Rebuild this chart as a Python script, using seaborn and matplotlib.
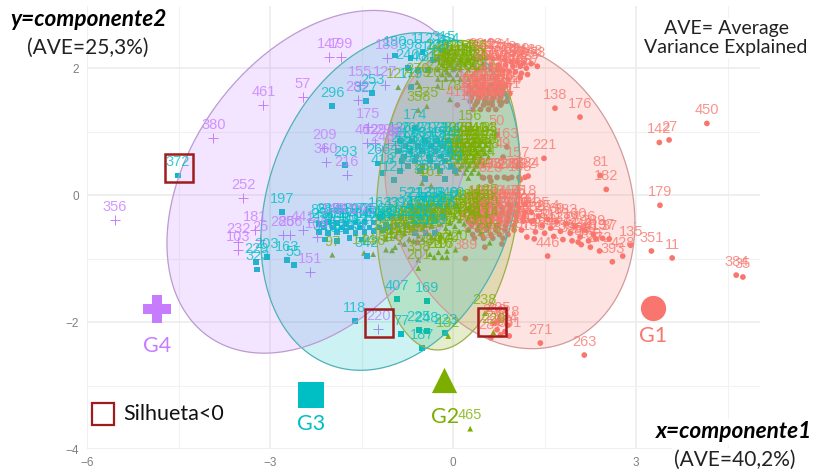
import numpy as np
import pandas as pd
import matplotlib
matplotlib.use("Agg")
import matplotlib.pyplot as plt
from matplotlib.patches import Rectangle
import seaborn as sns

groups = ["G1", "G2", "G3", "G4"]
palette = {"G1": "#F8766D", "G2": "#7CAE00", "G3": "#00BFC4", "G4": "#C77CFF"}
edges = {"G1": "#D29A9A", "G2": "#9DAE4E", "G3": "#4FB2B5", "G4": "#BC9AD2"}
markers = {"G1": "o", "G2": "^", "G3": "s"}

# ellipses: centre, half extent in x and y, correlation
ell_cx = [0.93, -0.08, -1.03, -2.20]
ell_cy = [0.0, 0.0, -0.10, 0.21]
ell_hx = [2.05, 1.18, 2.12, 2.49]
ell_hy = [2.42, 2.44, 2.66, 2.70]
ell_rho = [-0.18, 0.15, 0.23, 0.36]

g1_x = [1.67, 2.08, 4.16, 3.38, 3.54, 1.49, 1.23, 2.41, 2.51, 3.39, 1.55, 3.25, 3.59, 4.64, 4.75, 1.43, 2.15, 2.61, 2.78, 2.91, 2.56,
        .33, .45, .55, .65, .75, .85, .95, 1.05, 1.15, 1.28, 1.38, .4, .52, .62, .72, .82, .92, 1.02, 1.12, 1.22, .5, .7, .9, 1.1,
        .25, .38, .5, .62, .74, .86, .25, .36, .48, .6, .72, .84, .93, .28, .4, .52, .64, .76, .88, .32, .45, .58, .7,
        .72, .88, .82, 1.07, .48, .6, .72, .84, .96, 1.08, 1.18,
        .45, .6, .75, .9, 1.05, 1.18, .3, .42, .55, .68, .8, .93, 1.05, 1.18, 1.28,
        .25, .38, .5, .63, .76, .9, 1.03, 1.15, 1.28, .25, .4, .55, .7, .85, 1.0, 1.12, .35, .5, .65, .82,
        1.4, 1.55, 1.7, 1.85, 2.0, 2.15, 2.3, 2.45, 1.35, 1.5, 1.65, 1.8, 1.95, 2.1, 2.25, 2.4,
        1.21, 1.33, 2.05, 2.34,
        .68, .72, .78, .85, .9, .62, .92, .75,
        .07, .39, .57, .8, .5, .62, .9, 1.1, .2, .52, .8, -.59]
g1_y = [1.37, 1.23, 1.13, .83, .87, .58, .30, .31, .09, -.16, -.96, -.88, -.99, -1.26, -1.29, -2.33, -2.52, -1.05, -.96, -.79, -.69,
        2.15, 2.17, 2.16, 2.15, 2.17, 2.13, 2.1, 2.1, 2.08, 2.07, 2.03, 1.98, 2.0, 1.99, 1.98, 1.96, 1.95, 1.94, 1.92, 1.9, 1.85, 1.84, 1.83, 1.85,
        1.72, 1.72, 1.72, 1.72, 1.72, 1.72, 1.6, 1.6, 1.6, 1.6, 1.6, 1.6, 1.6, 1.48, 1.48, 1.48, 1.48, 1.48, 1.48, 1.35, 1.35, 1.35, 1.35,
        .96, .76, .60, .46, .28, .28, .28, .28, .28, .28, .28,
        -.14, -.14, -.14, -.14, -.14, -.14, -.27, -.27, -.27, -.27, -.27, -.27, -.27, -.27, -.27,
        -.41, -.41, -.41, -.41, -.41, -.41, -.41, -.41, -.41, -.55, -.55, -.55, -.55, -.55, -.55, -.55, -.68, -.68, -.68, -.68,
        -.33, -.38, -.42, -.45, -.5, -.55, -.62, -.68, -.58, -.6, -.65, -.7, -.72, -.78, -.82, -.88,
        -.66, -.69, -.74, -.69,
        -2.02, -2.12, -2.2, -2.15, -2.05, -2.25, -2.22, -1.98,
        1.42, 1.46, 1.45, 1.46, .27, .22, .26, .24, -1.0, -.82, -.77, -.74]
g1_lab = [138, 176, 450, 142, 27, 221, 324, 81, 182, 179, 446, 351, 11, 384, 35, 271, 263, 393, 428, 135, 37,
          76, 204, 48, 126, 294, 318, 83, 209, 248, 148, 78, 22, 331, 96, 117, 286, 44, 305, 159, 267,
          191, 64, 412, 73,
          112, 24, 251, 333, 89, 241, 18, 207, 366, 134, 92, 284, 224, 411, 68, 152, 276, 399, 21, 170, 245, 301, 59,
          50, 163, 49, 157, 277, 208, 62, 388, 227, 93, 122,
          101, 231, 14, 340, 75, 418, 281, 33, 195, 260, 47, 378, 123, 302, 41,
          129, 350, 85, 216, 437, 71, 295, 16, 172, 309, 98, 243, 55, 362, 184, 30, 322, 146, 261, 12,
          105, 254, 69, 383, 160, 436, 289, 197, 118, 312, 46, 233, 399, 88, 169, 272,
          374, 156, 258, 413,
          260, 299, 250, 234, 318, 287, 361, 205,
          412, 119, 356, 237, 94, 328, 278, 183, 389, 42, 337, 165]
# further G1 labels inside the dense clouds
g1b_x = [.3, .44, .56, .68, .8, .3, .42, .54, .66, .78, .9, .36, .5, .64, .78,
         .38, .52, .66, .8, .94, 1.08, .36, .5, .63, .76, .9, 1.04, 1.16, .3, .44, .58, .72, .86, 1.0, .32, .47, .62, .76, .9,
         .5, .62, .74, .86, .98, 1.1, 1.2, 1.32, 1.46, 1.6, 1.76, 1.92, 2.08, 2.22]
g1b_y = [1.66, 1.66, 1.66, 1.66, 1.66, 1.54, 1.54, 1.54, 1.54, 1.54, 1.54, 1.42, 1.42, 1.42, 1.42,
         -.2, -.2, -.2, -.2, -.2, -.2, -.34, -.34, -.34, -.34, -.34, -.34, -.34, -.48, -.48, -.48, -.48, -.48, -.48, -.62, -.62, -.62, -.62, -.62,
         2.05, 2.05, 2.05, 2.05, 2.03, 2.03, 2.0, -.4, -.48, -.52, -.57, -.6, -.66, -.72]
g1b_lab = [61, 340, 219, 77, 408, 136, 29, 352, 193, 86, 271, 43, 318, 124, 67,
           99, 222, 354, 110, 386, 52, 280, 13, 175, 442, 91, 330, 26, 203, 58, 317, 141, 74, 265, 39, 154, 292, 84, 367,
           113, 270, 31, 345, 189, 66, 223, 439, 56, 311, 137, 82, 248, 19]

g2_x = [.28, -.08, .66, .52, -.05, -.43, -.57, -.59, .28,
        -.25, -.12, 0, .12, .25, .38, -.25, -.12, 0, .12, .25, .38, -.25, -.12, 0, .12, .25, .38,
        -.1, .03, -.9, -.55, -.25,
        0, .12, .24, .36, .48, .6, 0, .12, .24, .36, .48, .6, -.02, .1, .22, .34, .46, .58, .02, .14, .26, .38, .5, .06, .18, .3, .42,
        -1.1, -.95, -.8, -.65, -.5, -.35, -.2, -.05, .1, .25, .4, .55,
        -1.1, -.95, -.8, -.65, -.5, -.35, -.2, -.05, .1, .25, .4, .55,
        -1.1, -.95, -.8, -.65, -.5, -.35, -.2, -.05, .1, .25, .4, .55,
        -.38, -.24, -.1, .04, -.57, -.31, -.18, -.1,
        -.57, -1.98, -1.0, -1.31, -1.46, -.51, -.36, .25, .45, .6]
g2_y = [-3.68, -2.22, -2.16, -1.86, 1.51, 1.40, 1.34, 1.78, 1.04,
        2.14, 2.14, 2.14, 2.14, 2.14, 2.14, 1.98, 1.98, 1.98, 1.98, 1.98, 1.98, 1.83, 1.83, 1.83, 1.83, 1.83, 1.83,
        1.94, 2.0, 1.7, 1.72, 1.72,
        .85, .85, .85, .85, .85, .85, .72, .72, .72, .72, .72, .72, .6, .6, .6, .6, .6, .6, .47, .47, .47, .47, .47, .35, .35, .35, .35,
        -.52, -.48, -.43, -.38, -.35, -.32, -.29, -.26, -.23, -.2, -.16, -.13,
        -.69, -.65, -.6, -.55, -.52, -.49, -.46, -.43, -.4, -.37, -.33, -.3,
        -.86, -.82, -.77, -.72, -.69, -.66, -.63, -.6, -.57, -.54, -.5, -.47,
        -.93, -.9, -.88, -.86, -1.02, -.98, -.98, -.98,
        -1.15, -.94, -.87, -.93, -.91, .19, .15, .27, -.6, -.75]
g2_lab = [465, 132, 229, 238, 178, 375, 358, 270, 156,
          143, 86, 319, 204, 67, 425, 19, 263, 177, 302, 58, 371, 224, 95, 441, 130, 286, 52,
          69, 327, 127, 179, 266,
          107, 328, 61, 240, 414, 83, 192, 36, 277, 151, 343, 74, 259, 406, 121, 29, 310, 168, 90, 232, 385, 53, 144, 298, 213, 77, 352,
          87, 321, 142, 63, 214, 391, 109, 274, 38, 186, 445, 125,
          336, 72, 257, 149, 403, 28, 291, 166, 80, 368, 115, 239,
          54, 199, 422, 133, 307, 66, 252, 17, 347, 108, 283, 174,
          389, 147, 300, 220, 358, 23, 116, 97,
          201, 97, 315, 230, 144, 39, 161, 389, 316, 275]
# further G2 labels inside the dense clouds
g2b_x = [-.18, -.05, .07, .2, .32, -.18, -.05, .07, .2, .32,
         .06, .18, .3, .42, .54, .04, .16, .28, .4, .52, .08, .2, .32, .44, .1, .22, .34,
         -1.02, -.87, -.72, -.57, -.42, -.27, -.12, .03, .18, .33, .48, -.87, -.72, -.57, -.42, -.27, -.12, .03, .18, .33]
g2b_y = [2.06, 2.06, 2.06, 2.06, 2.06, 1.9, 1.9, 1.9, 1.9, 1.9,
         .79, .79, .79, .79, .79, .66, .66, .66, .66, .66, .53, .53, .53, .53, .41, .41, .41,
         -.58, -.55, -.5, -.46, -.43, -.39, -.36, -.33, -.3, -.26, -.23, -.74, -.69, -.64, -.6, -.56, -.52, -.49, -.45, -.42]
g2b_lab = [262, 49, 333, 118, 405, 75, 290, 164, 37, 348,
           128, 396, 57, 241, 183, 70, 312, 25, 155, 420, 99, 268, 141, 376, 82, 211, 34,
           344, 65, 193, 420, 111, 256, 78, 399, 135, 51, 288, 176, 32, 362, 104, 247, 89, 318, 126, 45]

g3_x = [-4.51, -1.98, -2.80, -1.77, -1.43, -1.33, -1.23, -1.15, -.97,
        -3.05, -3.23, -3.21, -2.72, -2.61,
        -1.61, -.92, -.43, -.56, -.43, -.13, -.51, -.85, -1.41,
        -.70, -.74, -.33, -.26, -.16, -.57, -.41, -.69, -.62, -.95, -.5, -.09,
        -.87, -.67, -.46, -.26, -.08, -.9, -.7, -.51, -.29, -.05, -.84, -.62, -.38, -.13, -.87, -.54, -.21, .03, -.46, -.13,
        -.7, -.55, -.4, -.25, -.1, .05, -1.2, -1.0, -.85, -.7, -.55, -.35, -.15, -.62, -.45, -.3,
        -2.2, -2.05, -1.9, -1.75, -1.6, -1.45, -1.3, -2.2, -2.05, -1.9, -1.75, -1.6, -1.45, -1.3, -1.15, -2.1, -1.9, -1.7, -1.5]
g3_y = [.31, 1.40, -.27, .47, 1.48, 1.61, .50, .35, .24,
        -.98, -1.05, -1.17, -1.02, -1.10,
        -1.98, -1.64, -1.67, -2.13, -2.14, -2.17, -2.41, -2.19, -.96,
        2.16, 2.0, 2.13, 2.16, 2.28, 1.97, 1.97, 1.70, 1.06, 2.2, 2.25, 2.25,
        .85, .85, .85, .85, .85, .69, .69, .69, .69, .69, .54, .54, .54, .54, .38, .38, .38, .38, .25, .25,
        -.17, -.17, -.17, -.17, -.17, -.17, -.34, -.34, -.34, -.34, -.34, -.34, -.34, -.6, -.6, -.6,
        -.45, -.42, -.44, -.45, -.43, -.42, -.43, -.58, -.6, -.58, -.57, -.6, -.58, -.56, -.55, -.7, -.72, -.68, -.7]
g3_lab = [372, 296, 197, 293, 327, 253, 266, 418, 121,
          203, 229, 323, 163, 55,
          118, 407, 169, 225, 248, 223, 187, 77, 342,
          398, 240, 142, 220, 315, 40, 81, 179, 174, 180, 112, 264,
          126, 202, 470, 173, 384, 20, 91, 337, 252, 115, 416, 146, 283, 59, 278, 333, 183, 70, 256, 83,
          521, 212, 131, 18, 349, 60, 163, 43, 392, 247, 188, 104, 326, 35, 291, 138,
          85, 289, 142, 419, 300, 74, 356, 219, 31, 268, 95, 432, 177, 128, 63, 310, 88, 205, 37]
# further G3 labels inside the dense clouds
g3b_x = [-.78, -.57, -.36, -.17, -.8, -.6, -.4, -.2, -.74, -.5, -.26, -.04,
         -.62, -.47, -.32, -.17, -1.1, -.92, -.77, -.62, -.47,
         -2.12, -1.97, -1.82, -1.67, -1.52, -1.37, -1.22, -1.03]
g3b_y = [.77, .77, .77, .77, .61, .61, .61, .61, .46, .46, .46, .46,
         -.25, -.25, -.25, -.25, -.47, -.47, -.47, -.47, -.47,
         -.51, -.51, -.51, -.51, -.51, -.51, -.51, -.5]
g3b_lab = [212, 68, 339, 154, 97, 275, 430, 186, 51, 308, 124, 263,
           377, 46, 191, 294, 139, 402, 72, 226, 15,
           251, 363, 90, 178, 414, 48, 306, 133]

g4_x = [-5.54, -3.93, -3.11, -2.46, -2.03, -1.84, -3.44, -1.52, -1.56, -1.39, -2.11, -2.08, -1.74, -1.41,
        -3.25, -3.52, -3.52, -3.16, -2.79, -2.67, -2.46, -2.23, -2.34, -1.97, -1.80, -1.48, -1.23,
        -1.28, -1.07, -.95, -1.16, -1.08, -1.11]
g4_y = [-.39, .90, 1.42, 1.54, 2.17, 2.17, -.05, 1.73, 1.50, 1.07, .74, .52, .31, .82,
        -.55, -.74, -.87, -.71, -.63, -.63, -.55, -.66, -1.21, -.43, -.43, -.44, -2.11,
        .82, .82, .79, .71, 2.16, 1.73]
g4_lab = [356, 380, 461, 57, 147, 199, 252, 155, 282, 175, 209, 360, 216, 462,
          181, 232, 103, 25, 285, 266, 441, 109, 151, 145, 341, 190, 220,
          129, 296, 80, 246, 183, 127]

tick_x = [-6, -3, 0, 3]
tick_y = [-4, -2, 0, 2]
minor_x = [-4.5, -1.5, 1.5, 4.5]
minor_y = [-3, -1, 1]

# big marker key: position, name label position
key_x = [3.28, -0.15, -2.33, -4.85]
key_y = [-1.78, -2.92, -3.15, -1.80]
key_lab_x = [3.28, -0.13, -2.33, -4.85]
key_lab_y = [-2.22, -3.49, -3.60, -2.37]

# silhouette boxes: lower-left corner
box_x = [-4.72, -1.44, .41]
box_y = [.205, -2.24, -2.22]

frames = []
for g, xs, ys, ls in [("G1", g1_x + g1b_x, g1_y + g1b_y, g1_lab + g1b_lab),
                      ("G2", g2_x + g2b_x, g2_y + g2b_y, g2_lab + g2b_lab),
                      ("G3", g3_x + g3b_x, g3_y + g3b_y, g3_lab + g3b_lab),
                      ("G4", g4_x, g4_y, g4_lab)]:
    frames.append(pd.DataFrame({"x": xs, "y": ys, "lab": ls, "group": g}))
df = pd.concat(frames, ignore_index=True)

sns.set_theme(style="white")
plt.rcParams["font.family"] = ["Liberation Sans", "DejaVu Sans"]

fig = plt.figure(figsize=(8.13, 4.74), dpi=100)
ax = fig.add_axes([87 / 813, 25 / 474, 673 / 813, 443 / 474])
ax.set_xlim(-6, 5.03)
ax.set_ylim(-4, 2.98)

filled = df[df["group"] != "G4"]
sns.scatterplot(data=filled, x="x", y="y", hue="group", style="group",
                palette={k: palette[k] for k in markers}, markers=markers, s=17, linewidth=0,
                legend=False, ax=ax, zorder=2)
sns.scatterplot(data=df[df["group"] == "G4"], x="x", y="y", marker="+", color=palette["G4"],
                s=42, linewidth=0.7, legend=False, ax=ax, zorder=2)

t = np.linspace(0, 2 * np.pi, 240)
for i, g in enumerate(groups):
    ex = ell_cx[i] + ell_hx[i] * np.cos(t)
    ey = ell_cy[i] + ell_hy[i] * (ell_rho[i] * np.cos(t) + np.sqrt(1 - ell_rho[i] ** 2) * np.sin(t))
    ax.fill(ex, ey, facecolor=palette[g], alpha=0.2, zorder=3, linewidth=0)
    ax.plot(ex, ey, color=edges[g], lw=0.9, zorder=3.2)

for _, r in df.iterrows():
    ax.annotate(str(r["lab"]), (r["x"], r["y"]), xytext=(0, 4.5), textcoords="offset points",
                ha="center", va="bottom", fontsize=10.5, color=palette[r["group"]],
                alpha=0.78, zorder=4)

ax.set_xticks(tick_x)
ax.set_yticks(tick_y)
ax.set_xticks(minor_x, minor=True)
ax.set_yticks(minor_y, minor=True)
ax.grid(True, which="major", color="#ebebeb", lw=1.1, zorder=0)
ax.grid(True, which="minor", color="#f2f2f2", lw=0.8, zorder=0)
ax.set_axisbelow(True)
for s in ax.spines.values():
    s.set_visible(False)
ax.tick_params(axis="both", which="both", length=0, labelsize=8.5, labelcolor="#808080", pad=6)
ax.set_xlabel("")
ax.set_ylabel("")

# key
key_markers = {"G1": "o", "G2": "^", "G3": "s", "G4": "P"}
for i, g in enumerate(groups):
    ax.scatter([key_x[i]], [key_y[i]], marker=key_markers[g], s=330 if g != "G4" else 420,
               color=palette[g], linewidth=0, zorder=6)
    ax.text(key_lab_x[i], key_lab_y[i], g, color=palette[g], fontsize=15.5, family="Lato",
            ha="center", va="center", zorder=6)

for bx, by in zip(box_x, box_y):
    ax.add_patch(Rectangle((bx, by), 0.46, 0.44, fill=False, edgecolor="#A01C1C", lw=1.8, zorder=7))
ax.add_patch(Rectangle((-5.92, -3.62), 0.36, 0.35, fill=False, edgecolor="#A01C1C", lw=1.6, zorder=7))
ax.text(-5.4, -3.45, "Silhueta<0", fontsize=15.5, family="Lato", color="#111111", va="center", zorder=7)

white = dict(facecolor="white", edgecolor="none", pad=1.5)
fig.text(88 / 813, 1 - 20 / 474, "y=componente2", fontsize=16.3, family="Lato", weight="bold",
         style="italic", color="black", ha="center", va="center")
fig.text(88 / 813, 1 - 48 / 474, "(AVE=25,3%)", fontsize=15, family="Lato", color="#222222",
         ha="center", va="center")
fig.text(726 / 813, 1 - 38 / 474, "AVE= Average\nVariance Explained", fontsize=14, family="Lato",
         color="#222222", ha="center", va="center", linespacing=1.15, bbox=white)
fig.text(734 / 813, 1 - 432 / 474, "x=componente1", fontsize=16.3, family="Lato", weight="bold",
         style="italic", color="black", ha="center", va="center", bbox=white, zorder=9)
fig.text(735 / 813, 1 - 460 / 474, "(AVE=40,2%)", fontsize=15, family="Lato", color="#222222",
         ha="center", va="center", bbox=white, zorder=9)

fig.savefig("out.png", dpi=100, facecolor="white")
